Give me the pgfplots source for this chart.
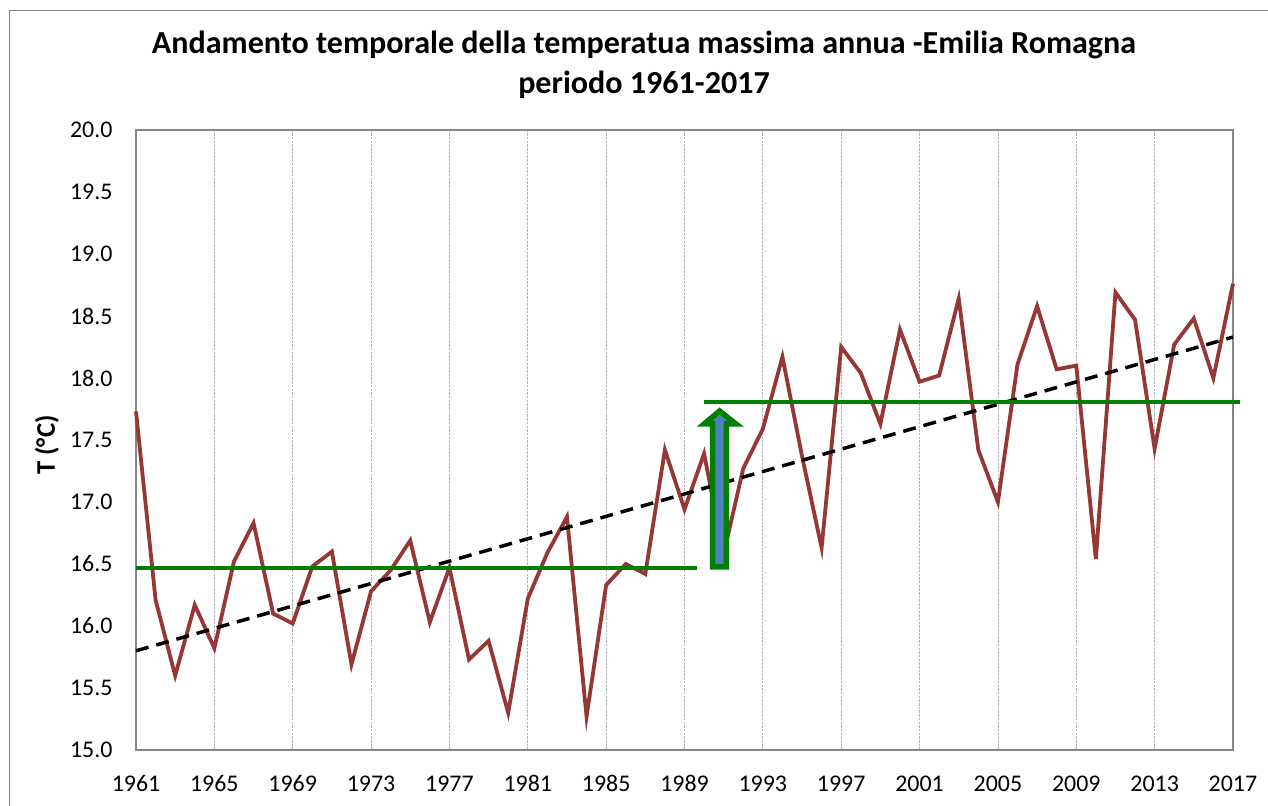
\documentclass[border=0pt]{standalone}
\usepackage{fontspec}
\setmainfont{Carlito}
\usepackage{pgfplots}
\pgfplotsset{compat=1.18}
\definecolor{serie}{RGB}{149,55,53}
\definecolor{verde}{RGB}{0,128,0}
\definecolor{blu}{RGB}{79,129,189}
\definecolor{bordo}{RGB}{134,134,134}
\begin{document}
\begin{tikzpicture}[x=1bp,y=1bp]
\useasboundingbox (0,0) rectangle (1268,806);
\draw[bordo, line width=1bp] (9.5,-20) -- (9.5,795.5) -- (1300,795.5);
\begin{axis}[
  at={(136bp,56bp)}, anchor=south west,
  scale only axis, width=1097bp, height=620bp,
  xmin=1961, xmax=2017, ymin=15, ymax=20,
  xtick={1961,1965,1969,1973,1977,1981,1985,1989,1993,1997,2001,2005,2009,2013,2017},
  ytick={15,15.5,16,16.5,17,17.5,18,18.5,19,19.5,20},
  xmajorgrids,
  major grid style={color=gray!60, dash pattern=on 2.5bp off 1.2bp, line width=0.8bp},
  axis line style={color=bordo, line width=1.2bp},
  major tick length=0pt,
  /pgf/number format/assume math mode=true,
  tick label style={font=\fontsize{24}{24}\selectfont, text=black},
  xticklabel style={/pgf/number format/1000 sep={}, yshift=-22bp},
  yticklabel style={/pgf/number format/.cd, fixed, fixed zerofill, precision=1, 1000 sep={}, /tikz/xshift=-20bp},
  clip=false,
]
\addplot[serie, line width=3.8bp, line join=miter] coordinates {
(1961,17.73) (1962,16.21) (1963,15.60) (1964,16.17) (1965,15.82)
(1966,16.52) (1967,16.83) (1968,16.10) (1969,16.02) (1970,16.48)
(1971,16.60) (1972,15.69) (1973,16.28) (1974,16.45) (1975,16.69)
(1976,16.03) (1977,16.47) (1978,15.73) (1979,15.88) (1980,15.30)
(1981,16.22) (1982,16.59) (1983,16.88) (1984,15.27) (1985,16.33)
(1986,16.50) (1987,16.42) (1988,17.42) (1989,16.94) (1990,17.39)
(1991,16.58) (1992,17.27) (1993,17.59) (1994,18.17) (1995,17.37)
(1996,16.63) (1997,18.25) (1998,18.04) (1999,17.63) (2000,18.39)
(2001,17.97) (2002,18.02) (2003,18.64) (2004,17.42) (2005,17.00)
(2006,18.11) (2007,18.58) (2008,18.07) (2009,18.10) (2010,16.54)
(2011,18.69) (2012,18.47) (2013,17.43) (2014,18.27) (2015,18.48)
(2016,18.00) (2017,18.76)
};
\addplot[black, line width=3.5bp, dash pattern=on 13bp off 8bp] coordinates {(1961,15.80) (2017,18.33)};
\addplot[verde, line width=4bp] coordinates {(1961,16.465) (1989.65,16.465)};
\addplot[verde, line width=4bp] coordinates {(1990.0,17.805) (2017.35,17.805)};
\filldraw[fill=blu, draw=verde, line width=5.5bp, line join=miter]
  (axis cs:1990.43,16.476) -- (axis cs:1990.43,17.629) -- (axis cs:1990.0,17.629)
  -- (axis cs:1990.79,17.734) -- (axis cs:1991.63,17.629) -- (axis cs:1991.14,17.629)
  -- (axis cs:1991.14,16.476) -- cycle;
\end{axis}
\node[anchor=base, inner sep=0pt, font=\fontsize{32.2}{32.2}\selectfont\bfseries] at (644,752) {Andamento temporale della temperatua massima annua -Emilia Romagna};
\node[anchor=base, inner sep=0pt, font=\fontsize{32.2}{32.2}\selectfont\bfseries] at (644,712) {periodo 1961-2017};
\node[rotate=90, inner sep=0pt, font=\fontsize{27}{27}\selectfont\bfseries] at (47,361) {T (°C)};
\end{tikzpicture}
\end{document}
